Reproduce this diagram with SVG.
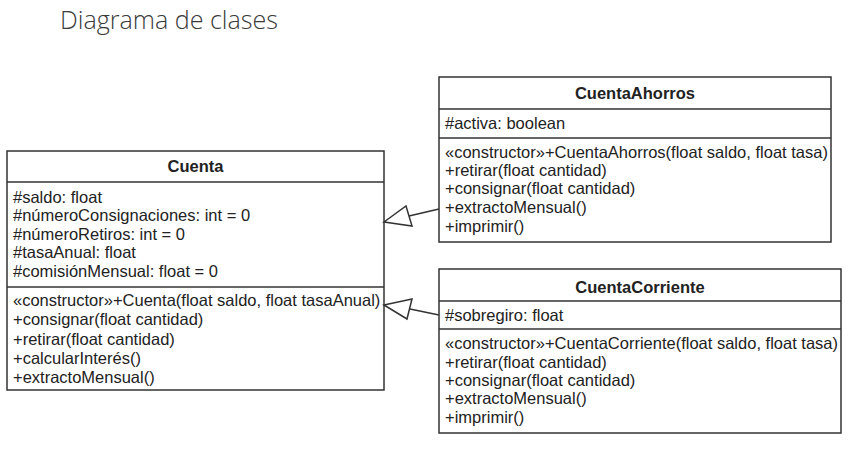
<svg xmlns="http://www.w3.org/2000/svg" width="858" height="450" viewBox="0 0 858 450">
<style>
.box{fill:#fff;stroke:#333;stroke-width:1.5}
.sep{stroke:#333;stroke-width:1.5}
.t{font-family:"Liberation Sans",Arial,sans-serif;font-size:16.5px;fill:#222}
.h{font-family:"Liberation Sans",Arial,sans-serif;font-size:16.5px;font-weight:bold;fill:#222;text-anchor:middle}
.title{font-family:"Open Sans","Noto Sans",sans-serif;font-size:25px;font-weight:300;fill:#3a3a3a}
.conn{fill:none;stroke:#333;stroke-width:1.5}
.tri{fill:#fff;stroke:#333;stroke-width:1.5}
</style>
<rect width="858" height="450" fill="#fff"/>
<text class="title" x="60" y="29" textLength="218" lengthAdjust="spacingAndGlyphs">Diagrama de clases</text>

<g id="Cuenta">
<rect class="box" x="7" y="151" width="377" height="239"/>
<line class="sep" x1="7" y1="182" x2="384" y2="182"/>
<line class="sep" x1="7" y1="287" x2="384" y2="287"/>
<text class="h" x="195.5" y="172">Cuenta</text>
<text class="t" x="13" y="203">#saldo: float</text>
<text class="t" x="13" y="221">#númeroConsignaciones: int = 0</text>
<text class="t" x="13" y="240">#númeroRetiros: int = 0</text>
<text class="t" x="13" y="258">#tasaAnual: float</text>
<text class="t" x="13" y="277">#comisiónMensual: float = 0</text>
<text class="t" x="13" y="306">«constructor»+Cuenta(float saldo, float tasaAnual)</text>
<text class="t" x="13" y="325">+consignar(float cantidad)</text>
<text class="t" x="13" y="345">+retirar(float cantidad)</text>
<text class="t" x="13" y="364">+calcularInterés()</text>
<text class="t" x="13" y="383">+extractoMensual()</text>
</g>

<g id="CuentaAhorros">
<rect class="box" x="439" y="77" width="392" height="165"/>
<line class="sep" x1="439" y1="109" x2="831" y2="109"/>
<line class="sep" x1="439" y1="138" x2="831" y2="138"/>
<text class="h" x="635" y="99">CuentaAhorros</text>
<text class="t" x="445" y="129">#activa: boolean</text>
<text class="t" x="445" y="158">«constructor»+CuentaAhorros(float saldo, float tasa)</text>
<text class="t" x="445" y="176">+retirar(float cantidad)</text>
<text class="t" x="445" y="194">+consignar(float cantidad)</text>
<text class="t" x="445" y="213">+extractoMensual()</text>
<text class="t" x="445" y="232">+imprimir()</text>
</g>

<g id="CuentaCorriente">
<rect class="box" x="439" y="269" width="402" height="164"/>
<line class="sep" x1="439" y1="301" x2="841" y2="301"/>
<line class="sep" x1="439" y1="329" x2="841" y2="329"/>
<text class="h" x="640" y="293">CuentaCorriente</text>
<text class="t" x="445" y="321">#sobregiro: float</text>
<text class="t" x="445" y="349">«constructor»+CuentaCorriente(float saldo, float tasa)</text>
<text class="t" x="445" y="368">+retirar(float cantidad)</text>
<text class="t" x="445" y="386">+consignar(float cantidad)</text>
<text class="t" x="445" y="404">+extractoMensual()</text>
<text class="t" x="445" y="423">+imprimir()</text>
</g>

<g id="connectors">
<line class="conn" x1="439" y1="209" x2="409" y2="216"/>
<polygon class="tri" points="384,222 406,206 412,226"/>
<line class="conn" x1="439" y1="315" x2="410" y2="309"/>
<polygon class="tri" points="384,305 412,299 407,319"/>
</g>
</svg>
